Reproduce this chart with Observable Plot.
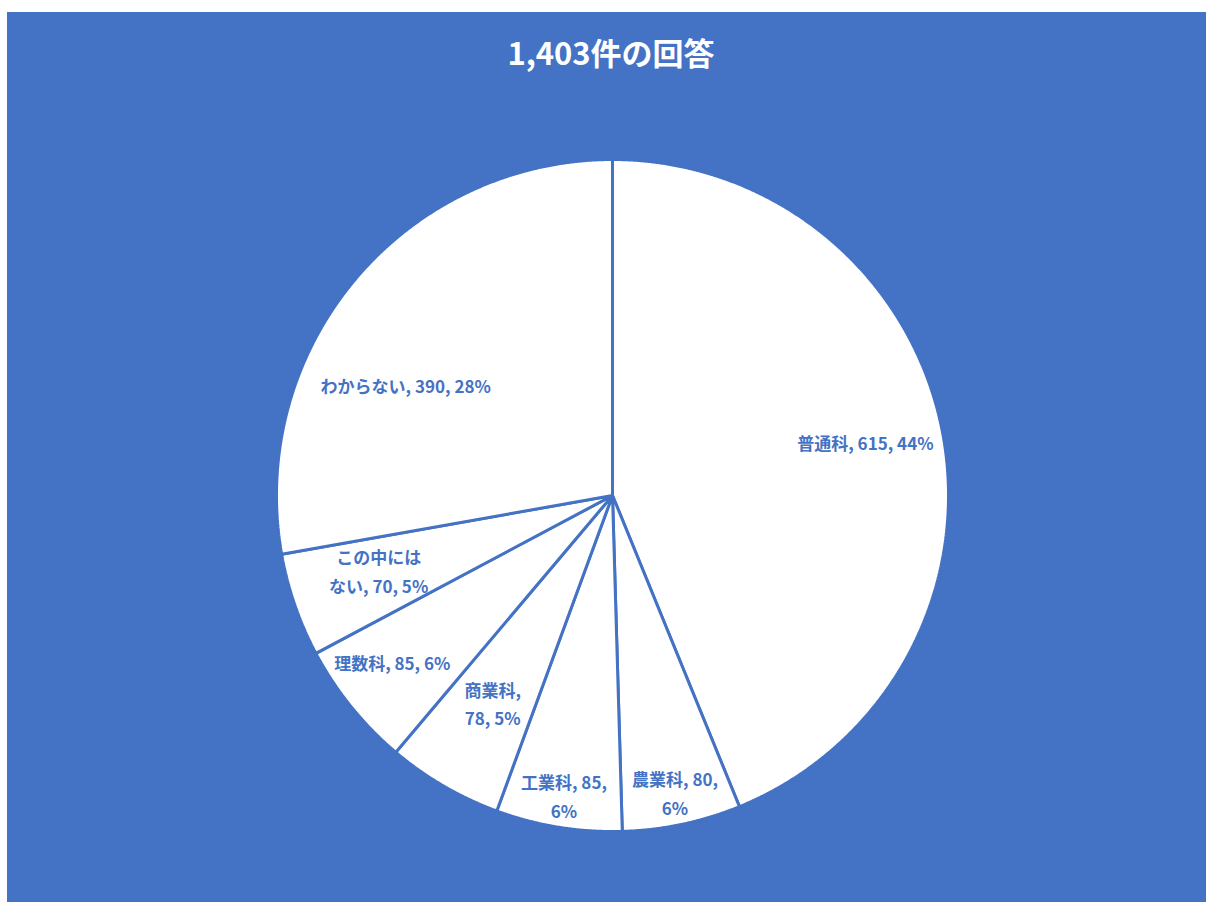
<!DOCTYPE html>
<html><head><meta charset="utf-8">
<script src="https://cdn.jsdelivr.net/npm/d3@7"></script>
<script src="https://cdn.jsdelivr.net/npm/@observablehq/plot@0.6"></script>
<style>
html,body{margin:0;padding:0;background:#fff;}
#frame{position:absolute;left:7px;top:12px;width:1199px;height:890px;background:#4472C4;overflow:hidden;}
#title{position:absolute;left:304px;width:600px;top:21px;text-align:center;color:#fff;font-weight:bold;font-size:31px;font-family:"Noto Sans CJK JP",sans-serif;line-height:38px;}
#chart{position:absolute;left:0;top:100px;}
</style></head><body>
<div id="frame"><div id="title">1,403件の回答</div><div id="chart"></div></div>
<script>
const categories = ["普通科","農業科","工業科","商業科","理数科","この中にはない","わからない"];
const counts = [615,80,85,78,85,70,390];
const percents = [44,6,6,5,6,5,28];
const labelTexts = ["普通科, 615, 44%","農業科, 80,\n6%","工業科, 85,\n6%","商業科,\n78, 5%","理数科, 85, 6%","この中には\nない, 70, 5%","わからない, 390, 28%"];

// label layout: fraction of radius and angle nudge (degrees)
const labelRadius = [0.77,0.90,0.90,0.71,0.82,0.73,0.70];
const labelAngleNudge = [-1.1,0,0,0,2,1.5,-11.5];

const BLUE = "#4472C4";
const arcs = d3.pie().sort(null).value(d => d)(counts);

const slicePts = [];
arcs.forEach((a, i) => {
  slicePts.push({k: categories[i], x: 0, y: 0});
  const n = Math.max(2, Math.ceil((a.endAngle - a.startAngle) / 0.004));
  for (let j = 0; j <= n; j++) {
    const t = a.startAngle + (a.endAngle - a.startAngle) * j / n;
    slicePts.push({k: categories[i], x: Math.sin(t), y: Math.cos(t)});
  }
});

const labels = arcs.map((a, i) => {
  const t = (a.startAngle + a.endAngle) / 2 + labelAngleNudge[i] * Math.PI / 180;
  return {text: labelTexts[i], x: labelRadius[i] * Math.sin(t), y: labelRadius[i] * Math.cos(t)};
});

const chart = Plot.plot({
  width: 1199, height: 790,
  marginLeft: 269, marginRight: 258, marginTop: 47, marginBottom: 71,
  style: {background: "transparent", overflow: "visible"},
  x: {domain: [-1, 1], axis: null},
  y: {domain: [-1, 1], axis: null},
  marks: [
    Plot.line(slicePts, {x: "x", y: "y", z: "k", curve: "linear-closed", fill: "white", stroke: BLUE, strokeWidth: 3, strokeLinejoin: "miter"}),
    Plot.text(labels, {x: "x", y: "y", text: "text", fill: BLUE, fontWeight: "bold", fontSize: 17, lineHeight: 1.7, fontFamily: "Noto Sans CJK JP"})
  ]
});
document.getElementById("chart").appendChild(chart);
</script>
</body></html>
